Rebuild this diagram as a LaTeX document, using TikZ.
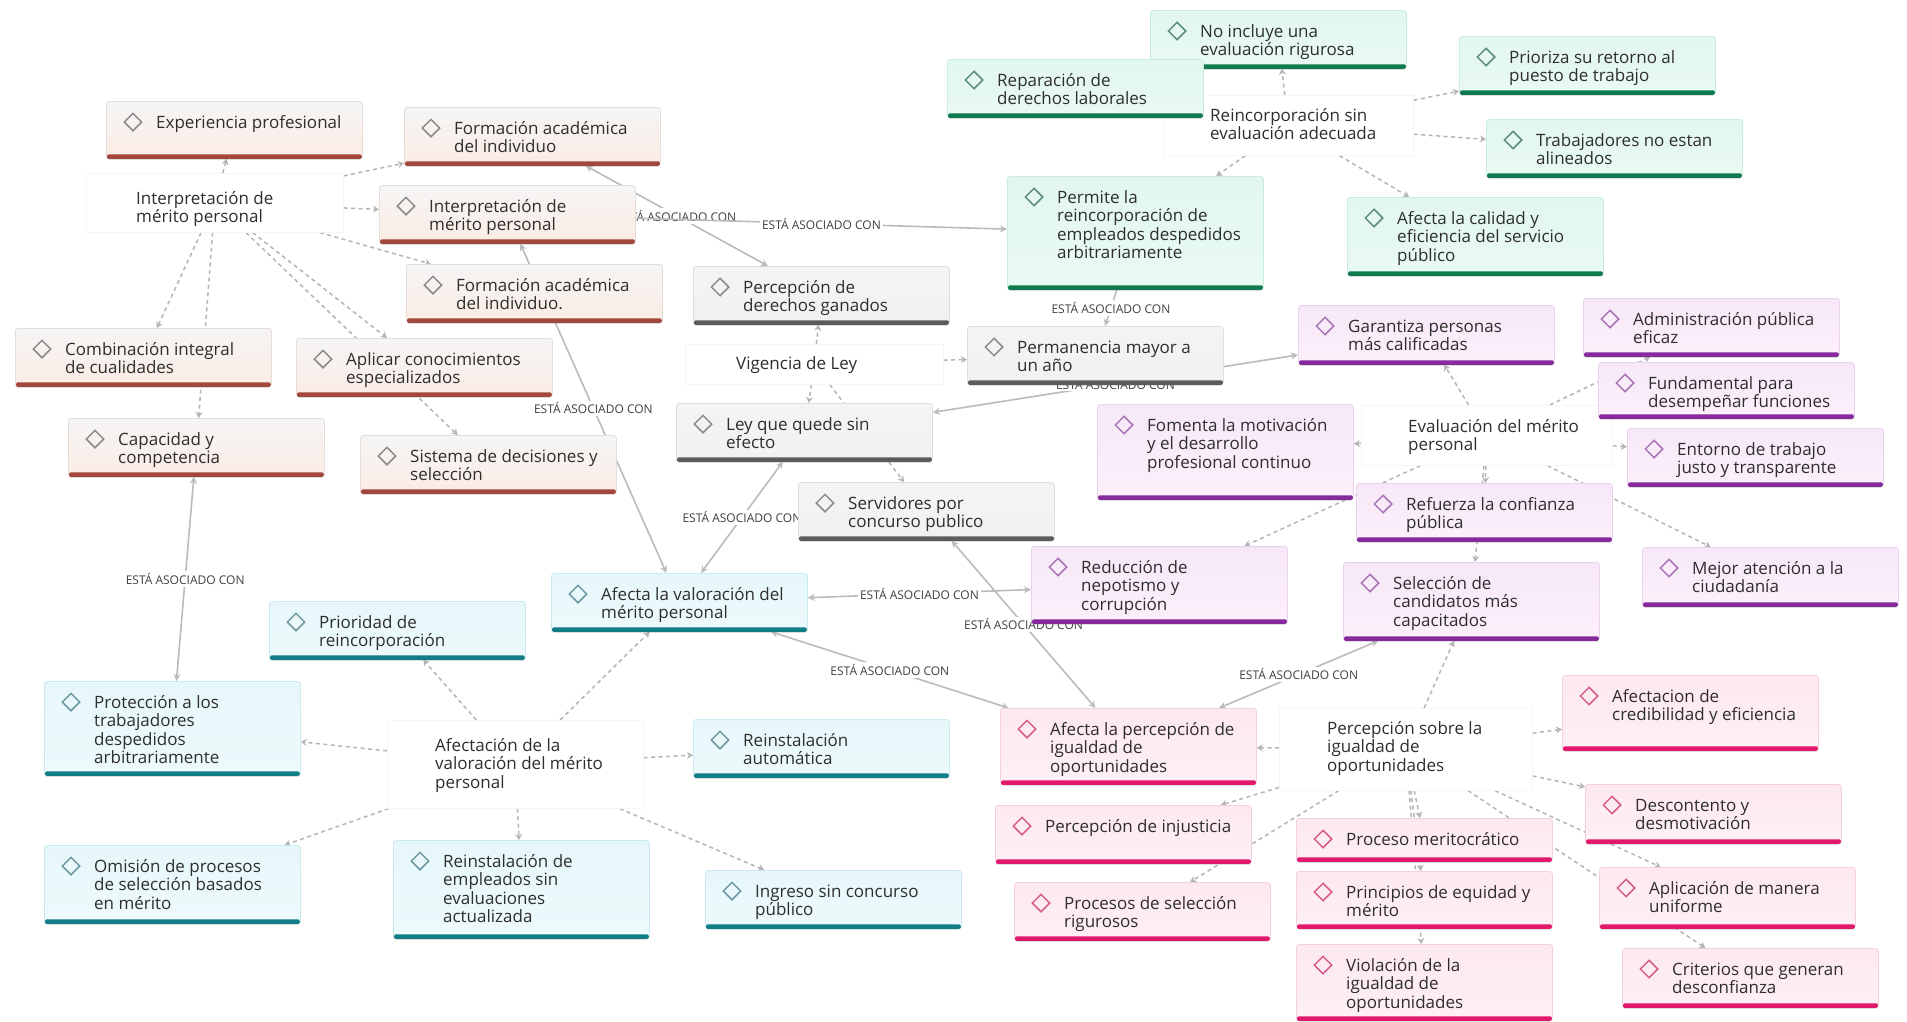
\documentclass[tikz,border=0pt]{standalone}
\usepackage{fontspec}
\setmainfont{Open Sans}
\usetikzlibrary{arrows.meta,shapes.geometric,shadows}
\pgfdeclarelayer{back}
\pgfdeclarelayer{bg}
\pgfsetlayers{back,bg,main}
\definecolor{txt}{HTML}{2E2E2E}
\definecolor{edg}{HTML}{B5B5B5}
\definecolor{edgs}{HTML}{BBBBBB}
\definecolor{labc}{HTML}{404040}
% red/beige group
\definecolor{rdtop}{HTML}{F5F5F5}\definecolor{rdbot}{HTML}{FBECE4}\definecolor{rdline}{HTML}{E6DCD8}\definecolor{rdbar}{HTML}{A3473D}\definecolor{rddia}{HTML}{8A8A8A}
% green group
\definecolor{gntop}{HTML}{E2F7EE}\definecolor{gnbot}{HTML}{E9FAF3}\definecolor{gnline}{HTML}{C9ECE0}\definecolor{gnbar}{HTML}{0F7A4E}\definecolor{gndia}{HTML}{5E8C7B}
% gray group
\definecolor{gytop}{HTML}{F4F4F4}\definecolor{gybot}{HTML}{F1F1F1}\definecolor{gyline}{HTML}{DEDEDE}\definecolor{gybar}{HTML}{5C5C5C}\definecolor{gydia}{HTML}{8C8C8C}
% cyan group
\definecolor{cytop}{HTML}{E6F7FA}\definecolor{cybot}{HTML}{EEFAFC}\definecolor{cyline}{HTML}{CBEAF0}\definecolor{cybar}{HTML}{117D86}\definecolor{cydia}{HTML}{6F98A3}
% purple group
\definecolor{putop}{HTML}{F6E8F7}\definecolor{pubot}{HTML}{FDF0FB}\definecolor{puline}{HTML}{EAD2EE}\definecolor{pubar}{HTML}{862A9C}\definecolor{pudia}{HTML}{A876B5}
% pink group
\definecolor{pktop}{HTML}{FDE9EF}\definecolor{pkbot}{HTML}{FDF0F4}\definecolor{pkline}{HTML}{F3D0DC}\definecolor{pkbar}{HTML}{E2186D}\definecolor{pkdia}{HTML}{D85C8E}

\tikzset{
  mm/.style={rectangle, rounded corners=3pt, draw=#1line, line width=0.8pt,
    top color=#1top, bottom color=#1bot, minimum width=256pt, inner sep=0pt,
    anchor=north west,
    drop shadow={shadow xshift=0pt, shadow yshift=-1.5pt, opacity=0.22, fill=black!60}},
  mmdia/.style={diamond, draw=#1dia, line width=1.5pt, minimum width=18pt,
    minimum height=18pt, inner sep=0pt},
  mmtxt/.style={font=\fontsize{17}{18.5}\selectfont, text=txt, align=left,
    inner sep=0pt, anchor=north west},
  ctr/.style={rectangle, draw=black!4, line width=0.6pt, fill=white,
    inner sep=0pt, anchor=north west},
  dsh/.style={draw=edg, line width=1.5pt, dash pattern=on 4pt off 3.5pt,
    -{Stealth[length=6pt,width=7pt]}},
  sol/.style={draw=edgs, line width=1.6pt,
    {Stealth[length=7pt,width=7pt]}-{Stealth[length=7pt,width=7pt]}},
  solo/.style={draw=edgs, line width=1.6pt, -{Stealth[length=7pt,width=7pt]}},
  lab/.style={font=\fontsize{12}{14}\selectfont, text=labc, fill=white, inner sep=2pt}
}

\newcommand\bx[6]{%
  \node[mm=#5, minimum height=#4pt] (#1) at (#2,#3) {};
  \fill[#5bar, rounded corners=1.5pt] ([xshift=1pt]#1.south west) rectangle ([xshift=-1pt,yshift=4.5pt]#1.south east);
  \node[mmdia=#5] (#1d) at ([xshift=27pt,yshift=-21pt]#1.north west) {};
  \node[mmtxt] (#1t) at ([xshift=50pt,yshift=-14pt]#1.north west) {\rule{0pt}{13pt}#6};
}
\newcommand\cb[8]{%
  \node[ctr, minimum width=#4pt, minimum height=#5pt] (#1) at (#2,#3) {};
  \node[mmtxt] (#1t) at (#6,#7) {\rule{0pt}{13pt}#8};
}
\newcommand\ea{ESTÁ ASOCIADO CON}

\begin{document}
\begin{tikzpicture}[x=1pt,y=-1pt]
\begin{pgfonlayer}{back}
\fill[white] (0,0) rectangle (1907,1021);
\end{pgfonlayer}
\useasboundingbox (0,0) rectangle (1907,1021);

% central text nodes
\cb{R}{1163}{95}{250}{60}{1210}{108}{Reincorporación sin\\evaluación adecuada}
\cb{I}{86}{173}{257}{59}{136}{191}{Interpretación de\\mérito personal}
\cb{V}{685}{344}{258}{40}{736}{356}{Vigencia de Ley}
\cb{A}{387}{720}{256}{88}{435}{738}{Afectación de la\\valoración del mérito\\personal}
\cb{E}{1361}{405}{251}{60}{1408}{419}{Evaluación del mérito\\personal}
\cb{P}{1279}{708}{253}{82}{1327}{721}{Percepción sobre la\\igualdad de\\oportunidades}

% green group
\bx{noinc}{1150}{10}{58}{gn}{No incluye una\\evaluación rigurosa}
\bx{repar}{947}{59}{58}{gn}{Reparación de\\derechos laborales}
\bx{prior}{1459}{36}{58}{gn}{Prioriza su retorno al\\puesto de trabajo}
\bx{trab}{1486}{119}{58}{gn}{Trabajadores no estan\\alineados}
\bx{afcal}{1347}{197}{78}{gn}{Afecta la calidad y\\eficiencia del servicio\\público}
\bx{perm}{1007}{176}{113}{gn}{Permite la\\reincorporación de\\empleados despedidos\\arbitrariamente}

% red group
\bx{exper}{106}{101}{57}{rd}{Experiencia profesional}
\bx{form1}{404}{107}{58}{rd}{Formación académica\\del individuo}
\bx{interp}{379}{185}{58}{rd}{Interpretación de\\mérito personal}
\bx{form2}{406}{264}{58}{rd}{Formación académica\\del individuo.}
\bx{comb}{15}{328}{58}{rd}{Combinación integral\\de cualidades}
\bx{aplic}{296}{338}{58}{rd}{Aplicar conocimientos\\especializados}
\bx{capac}{68}{418}{58}{rd}{Capacidad y\\competencia}
\bx{sist}{360}{435}{58}{rd}{Sistema de decisiones y\\selección}

% gray group
\bx{percder}{693}{266}{58}{gy}{Percepción de\\derechos ganados}
\bx{perman}{967}{326}{58}{gy}{Permanencia mayor a\\un año}
\bx{ley}{676}{403}{58}{gy}{Ley que quede sin\\efecto}
\bx{serv}{798}{482}{58}{gy}{Servidores por\\concurso publico}

% cyan group
\bx{afval}{551}{573}{58}{cy}{Afecta la valoración del\\mérito personal}
\bx{prio}{269}{601}{58}{cy}{Prioridad de\\reincorporación}
\bx{prot}{44}{681}{94}{cy}{Protección a los\\trabajadores\\despedidos\\arbitrariamente}
\bx{reinst}{693}{719}{58}{cy}{Reinstalación\\automática}
\bx{omis}{44}{845}{78}{cy}{Omisión de procesos\\de selección basados\\en mérito}
\bx{reinstb}{393}{840}{98}{cy}{Reinstalación de\\empleados sin\\evaluaciones\\actualizada}
\bx{ingr}{705}{870}{58}{cy}{Ingreso sin concurso\\público}

% purple group
\bx{garant}{1298}{305}{59}{pu}{Garantiza personas\\más calificadas}
\bx{admin}{1583}{298}{58}{pu}{Administración pública\\eficaz}
\bx{fund}{1598}{362}{56}{pu}{Fundamental para\\desempeñar funciones}
\bx{foment}{1097}{404}{95}{pu}{Fomenta la motivación\\y el desarrollo\\profesional continuo}
\bx{entorno}{1627}{428}{58}{pu}{Entorno de trabajo\\justo y transparente}
\bx{refuerza}{1356}{483}{58}{pu}{Refuerza la confianza\\pública}
\bx{reduc}{1031}{546}{77}{pu}{Reducción de\\nepotismo y\\corrupción}
\bx{selec}{1343}{562}{78}{pu}{Selección de\\candidatos más\\capacitados}
\bx{mejor}{1642}{547}{59}{pu}{Mejor atención a la\\ciudadanía}

% pink group
\bx{afcred}{1562}{675}{75}{pk}{Afectacion de\\credibilidad y eficiencia}
\bx{afperc}{1000}{708}{76}{pk}{Afecta la percepción de\\igualdad de\\oportunidades}
\bx{descont}{1585}{784}{59}{pk}{Descontento y\\desmotivación}
\bx{percinj}{995}{805}{58}{pk}{Percepción de injusticia}
\bx{proceso}{1296}{818}{43}{pk}{Proceso meritocrático}
\bx{princ}{1296}{871}{57}{pk}{Principios de equidad y\\mérito}
\bx{aplicu}{1599}{867}{61}{pk}{Aplicación de manera\\uniforme}
\bx{procsel}{1014}{882}{58}{pk}{Procesos de selección\\rigurosos}
\bx{viol}{1296}{944}{76}{pk}{Violación de la\\igualdad de\\oportunidades}
\bx{criter}{1622}{948}{59}{pk}{Criterios que generan\\desconfianza}

\begin{pgfonlayer}{bg}
% dashed connectors from central nodes
\foreach \t in {noinc,prior,trab,afcal,perm} \draw[dsh] (R) -- (\t);
\foreach \t in {exper,form1,interp,form2,comb,capac,aplic,sist} \draw[dsh] (I) -- (\t);
\foreach \t in {percder,perman,ley,serv} \draw[dsh] (V) -- (\t);
\foreach \t in {afval,prio,prot,reinst,omis,reinstb,ingr} \draw[dsh] (A) -- (\t);
\foreach \t in {garant,admin,foment,entorno,refuerza,reduc,selec,mejor} \draw[dsh] (E) -- (\t);
\foreach \t in {selec,afcred,afperc,descont,percinj,proceso,princ,viol,aplicu,procsel,criter} \draw[dsh] (P) -- (\t);
% labelled associations
\draw[sol] (form1) -- node[lab] (l1) {\ea} (percder);
\draw[solo] (interp) -- node[lab] (l2) {\ea} (perm);
\draw[solo] (perm) -- node[lab] (l3) {\ea} (perman);
\draw[sol] (garant) -- node[lab] (l4) {\ea} (ley);
\draw[sol] (afval) -- node[lab] (l5) {\ea} (ley);
\draw[sol] (afval) -- node[lab] (l6) {\ea} (reduc);
\draw[sol] (serv) -- node[lab] (l7) {\ea} (afperc);
\draw[sol] (afval) -- node[lab] (l8) {\ea} (afperc);
\draw[sol] (selec) -- node[lab] (l9) {\ea} (afperc);
\draw[sol] (capac) -- node[lab] (l10) {\ea} (prot);
\draw[sol] (afval) -- node[lab] (l11) {\ea} (interp);
\end{pgfonlayer}
\end{tikzpicture}
\end{document}
